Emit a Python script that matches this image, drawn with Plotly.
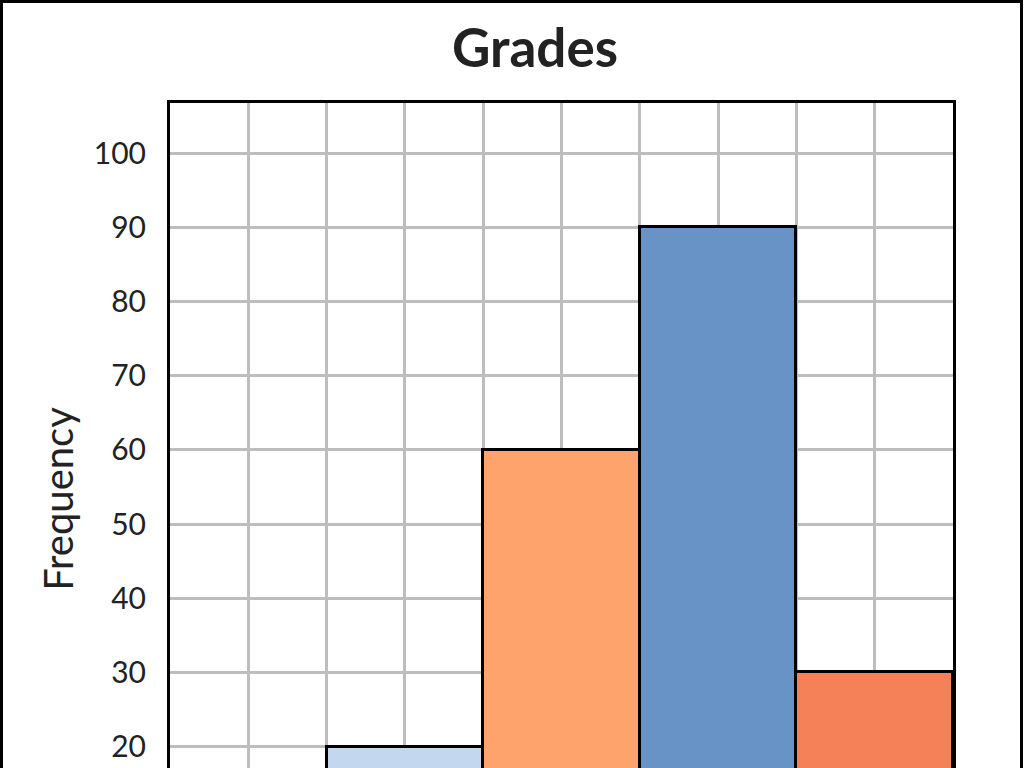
import plotly.graph_objects as go

bin_starts = [50, 60, 70, 80, 90]
frequencies = [10, 20, 60, 90, 30]
bar_colors = ["#8fb3dd", "#c3d8ee", "#ffa36c", "#6893c6", "#f58159"]
y_ticks = [0, 10, 20, 30, 40, 50, 60, 70, 80, 90, 100]
x_ticks = [50, 55, 60, 65, 70, 75, 80, 85, 90, 95, 100]

W, H = 1024, 995
L, R, T, B = 170, 71, 103, 100
pw, ph = W - L - R, H - T - B

fig = go.Figure(go.Bar(
    x=[s + 5 for s in bin_starts],
    y=frequencies,
    width=[10] * len(bin_starts),
    marker=dict(color=bar_colors, line=dict(color="black", width=3)),
))

font = "Lato, 'Open Sans', sans-serif"
fig.update_layout(
    width=W, height=H,
    margin=dict(l=L, r=R, t=T, b=B),
    paper_bgcolor="white", plot_bgcolor="white",
    showlegend=False,
    title=dict(text="<b>Grades</b>", x=535 / W, xanchor="center", y=1 - 48 / H, yanchor="middle",
               font=dict(family=font, size=53, color="#222")),
    font=dict(family=font, color="#222"),
    bargap=0,
)
fig.update_xaxes(range=[50, 100], tickvals=x_ticks, showgrid=True, gridcolor="#bdbdbd", gridwidth=2.5,
                 showline=True, linecolor="black", linewidth=3, mirror=True, zeroline=False,
                 ticks="", tickfont=dict(size=28))
fig.update_yaxes(range=[0, 106.75], tickvals=y_ticks, showgrid=True, gridcolor="#bdbdbd", gridwidth=2.5,
                 showline=True, linecolor="black", linewidth=3, mirror=True, zeroline=False,
                 ticks="", ticklabelstandoff=15, tickfont=dict(size=30),
                 title=dict(text="Frequency", font=dict(size=40), standoff=8))

fig.add_shape(type="rect", xref="paper", yref="paper",
              x0=-(L - 1.5) / pw, x1=1 + (R - 2.5) / pw,
              y0=-(B - 1.5) / ph, y1=1 + (T - 1.5) / ph,
              line=dict(color="black", width=3), fillcolor="rgba(0,0,0,0)", layer="above")

fig.write_html("out.html")
